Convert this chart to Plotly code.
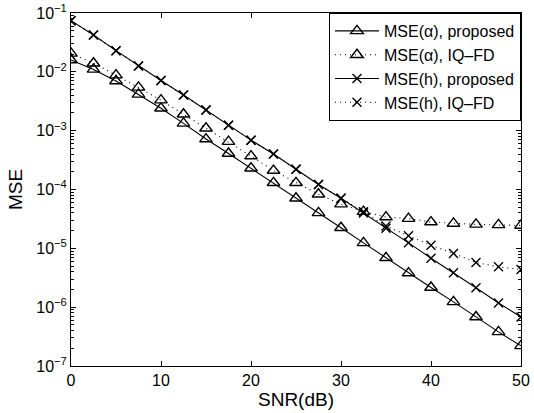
import plotly.graph_objects as go

snr = [0, 2.5, 5, 7.5, 10, 12.5, 15, 17.5, 20, 22.5, 25, 27.5, 30,
       32.5, 35, 37.5, 40, 42.5, 45, 47.5, 50]

mse_a_prop = [0.0159, 0.011, 0.007, 0.00414, 0.0024, 1.33e-3, 7.2e-4, 4.1e-4,
              2.3e-4, 1.3e-4, 7.1e-5, 4.0e-5, 2.24e-5, 1.24e-5, 6.9e-6, 3.8e-6,
              2.16e-6, 1.23e-6, 6.8e-7, 3.8e-7, 2.2e-7]
mse_a_iq = [0.0206, 0.014, 0.0088, 0.00545, 0.0033, 1.9e-3, 1.1e-3, 6.5e-4,
            3.7e-4, 2.1e-4, 1.3e-4, 8.3e-5, 5.65e-5, 4.2e-5, 3.4e-5, 3.2e-5,
            2.8e-5, 2.65e-5, 2.55e-5, 2.5e-5, 2.45e-5]
mse_h_prop = [0.074, 0.0423, 0.0229, 0.0126, 0.0071, 0.00403, 0.00224, 0.00124,
              6.9e-4, 4.0e-4, 2.2e-4, 1.22e-4, 7.1e-5, 4.0e-5, 2.2e-5, 1.24e-5,
              6.8e-6, 3.84e-6, 2.14e-6, 1.18e-6, 6.8e-7]
mse_h_iq = [0.074, 0.0423, 0.0229, 0.0126, 0.0071, 0.00403, 0.00224, 0.00124,
            6.9e-4, 4.0e-4, 2.2e-4, 1.22e-4, 7.1e-5, 4.2e-5, 2.4e-5, 1.63e-5,
            1.13e-5, 8.2e-6, 5.75e-6, 4.85e-6, 4.36e-6]

names = ["MSE(α), proposed", "MSE(α), IQ\u2013FD", "MSE(h), proposed", "MSE(h), IQ\u2013FD"]
x_ticks = [0, 10, 20, 30, 40, 50]
y_exps = [-7, -6, -5, -4, -3, -2, -1]

FONT = "Liberation Sans, Arial, sans-serif"

fig = go.Figure()
series = [mse_a_prop, mse_a_iq, mse_h_prop, mse_h_iq]
symbols = ["triangle-up-open", "triangle-up-open", "x-thin-open", "x-thin-open"]
dashes = ["solid", "1px,4px", "solid", "1px,4px"]
sizes = [11, 11, 9, 9]
for ys, nm, sym, dsh, sz in zip(series, names, symbols, dashes, sizes):
    fig.add_trace(go.Scatter(
        x=snr, y=ys, name=nm, mode="lines+markers",
        line=dict(color="black", width=1.1, dash=dsh),
        marker=dict(symbol=sym, size=sz, color="black",
                    line=dict(color="black", width=1.4)),
    ))

minor_vals = [m * 10 ** e for e in range(-7, -1) for m in range(2, 10)]

fig.update_layout(
    width=534, height=413,
    margin=dict(l=71, r=13, t=13, b=47),
    paper_bgcolor="white", plot_bgcolor="white",
    font=dict(family=FONT, size=16, color="black"),
    showlegend=True,
    legend=dict(x=1, y=1, xanchor="right", yanchor="top",
                bgcolor="white", bordercolor="black", borderwidth=1,
                font=dict(size=16), tracegroupgap=0, itemwidth=44),
)
fig.update_xaxes(
    range=[0, 50], tickvals=x_ticks, ticktext=[str(v) for v in x_ticks],
    ticks="inside", ticklen=5, tickcolor="black", showline=True,
    linecolor="black", linewidth=1, mirror="allticks", showgrid=False,
    zeroline=False, automargin=False, ticklabeloverflow="allow",
    title=dict(text="SNR(dB)", standoff=0),
)
fig.update_yaxes(
    type="log", range=[-7, -1],
    tickvals=[10 ** e for e in y_exps],
    ticktext=["10<sup>\u2212%d</sup>" % (-e) for e in y_exps],
    ticks="inside", ticklen=5, tickcolor="black", showline=True,
    linecolor="black", linewidth=1, mirror="allticks", showgrid=False,
    zeroline=False, automargin=False, ticklabeloverflow="allow",
    title=dict(text="MSE", standoff=8),
    minor=dict(tickvals=minor_vals, ticks="inside", ticklen=3,
               tickcolor="black", showgrid=False),
)

fig.write_html("out.html",
               config={"displayModeBar": False},
               post_script="document.body.style.margin='0';"
                           "document.body.style.overflow='hidden';")
